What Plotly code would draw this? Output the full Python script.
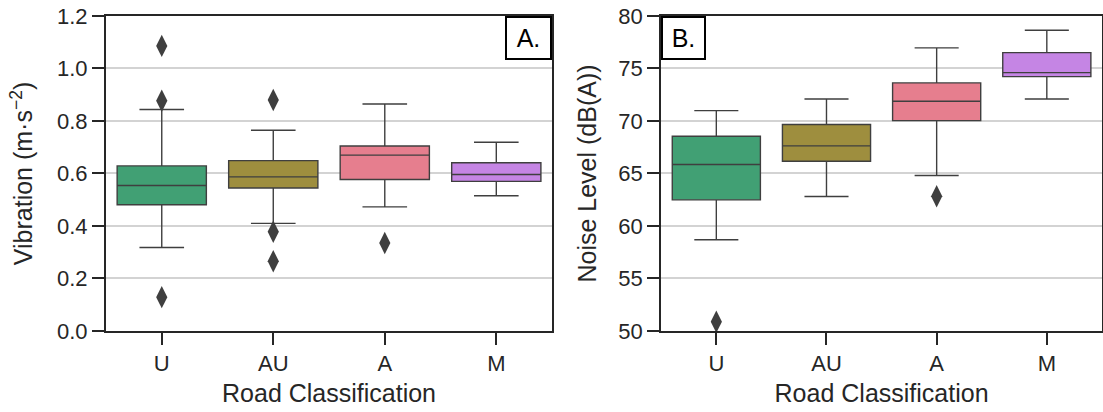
import plotly.graph_objects as go

categories = ["U", "AU", "A", "M"]
colors = ["#41a074", "#9e8e3e", "#e67e8e", "#c585e4"]

# Panel A: vibration (m·s^-2)
vib_lower = [0.318, 0.410, 0.473, 0.515]
vib_q1 = [0.481, 0.545, 0.577, 0.570]
vib_median = [0.554, 0.587, 0.670, 0.596]
vib_q3 = [0.629, 0.649, 0.705, 0.641]
vib_upper = [0.844, 0.765, 0.865, 0.719]
vib_out_cat = ["U", "U", "U", "AU", "AU", "AU", "A"]
vib_out_val = [1.086, 0.877, 0.129, 0.880, 0.378, 0.266, 0.335]

# Panel B: noise level (dB(A))
noise_lower = [58.69, 62.81, 64.81, 72.10]
noise_q1 = [62.49, 66.17, 70.04, 74.23]
noise_median = [65.86, 67.63, 71.88, 74.61]
noise_q3 = [68.55, 69.66, 73.63, 76.51]
noise_upper = [70.99, 72.10, 76.96, 78.64]
noise_out_cat = ["U", "A"]
noise_out_val = [50.89, 62.84]

vib_ticks = [0.0, 0.2, 0.4, 0.6, 0.8, 1.0, 1.2]
noise_ticks = [50, 55, 60, 65, 70, 75, 80]

FONT = "Liberation Sans, Arial, sans-serif"
TXT = "#262626"
LINE = "#3f3f3f"
TICK_SIZE = 22
TITLE_SIZE = 25

fig = go.Figure()

def add_panel(xa, ya, lo, q1, med, q3, up, oc, ov):
    for i, c in enumerate(categories):
        fig.add_trace(go.Box(
            x=[c], q1=[q1[i]], median=[med[i]], q3=[q3[i]],
            lowerfence=[lo[i]], upperfence=[up[i]],
            fillcolor=colors[i], line=dict(color=LINE, width=1.4),
            width=0.8, whiskerwidth=0.5, boxpoints=False, showlegend=False,
            xaxis=xa, yaxis=ya, hoverinfo="skip",
        ))
    fig.add_trace(go.Scatter(
        x=oc, y=ov, mode="markers", showlegend=False,
        marker=dict(symbol="diamond-tall", size=16, color=LINE, line=dict(width=0)),
        xaxis=xa, yaxis=ya, hoverinfo="skip",
    ))

add_panel("x", "y", vib_lower, vib_q1, vib_median, vib_q3, vib_upper, vib_out_cat, vib_out_val)
add_panel("x2", "y2", noise_lower, noise_q1, noise_median, noise_q3, noise_upper, noise_out_cat, noise_out_val)

xcommon = dict(
    categoryorder="array", categoryarray=categories,
    showline=True, linecolor=TXT, linewidth=2, mirror=True,
    ticks="outside", ticklen=12, tickwidth=2, tickcolor=TXT,
    showgrid=False, zeroline=False, automargin=False,
    tickfont=dict(family=FONT, size=TICK_SIZE, color=TXT),
    title=dict(text="Road Classification", font=dict(family=FONT, size=TITLE_SIZE, color=TXT), standoff=9),
    range=[-0.5, 3.5],
)
ycommon = dict(
    showline=True, linecolor=TXT, linewidth=2, mirror=True,
    ticks="outside", ticklen=12, tickwidth=2, tickcolor=TXT,
    showgrid=True, gridcolor="#d3d3d3", gridwidth=1.5, zeroline=False, automargin=False,
    tickfont=dict(family=FONT, size=TICK_SIZE, color=TXT),
)

fig.update_layout(
    width=1103, height=412,
    margin=dict(l=0, r=0, t=0, b=0),
    paper_bgcolor="white", plot_bgcolor="white",
    boxmode="overlay", boxgap=0.2,
    xaxis=dict(domain=[0.0961, 0.5005], anchor="y", **xcommon),
    xaxis2=dict(domain=[0.5995, 0.999], anchor="y2", **xcommon),
    yaxis=dict(domain=[0.1966, 0.9612], anchor="x", range=[0, 1.2],
               tickvals=vib_ticks, ticktext=[f"{v:.1f}" for v in vib_ticks],
               title=dict(text="Vibration (m·s<sup>−2</sup>)", font=dict(family=FONT, size=TITLE_SIZE, color=TXT), standoff=17),
               **ycommon),
    yaxis2=dict(domain=[0.1966, 0.9612], anchor="x2", range=[50, 80],
                tickvals=noise_ticks, ticktext=[str(v) for v in noise_ticks],
                title=dict(text="Noise Level (dB(A))", font=dict(family=FONT, size=TITLE_SIZE, color=TXT), standoff=15),
                **ycommon),
    annotations=[
        dict(text="A.", xref="x domain", yref="y domain", x=1, y=1, xanchor="right", yanchor="top",
             showarrow=False, font=dict(family=FONT, size=TITLE_SIZE, color="black"),
             bordercolor="black", borderwidth=2, borderpad=0, width=43, height=40, bgcolor="white"),
        dict(text="B.", xref="x2 domain", yref="y2 domain", x=0, y=1, xanchor="left", yanchor="top",
             showarrow=False, font=dict(family=FONT, size=TITLE_SIZE, color="black"),
             bordercolor="black", borderwidth=2, borderpad=0, width=41, height=40, bgcolor="white"),
    ],
)

fig.write_html("out.html", config={"displayModeBar": False},
               post_script="document.body.style.margin='0';")
